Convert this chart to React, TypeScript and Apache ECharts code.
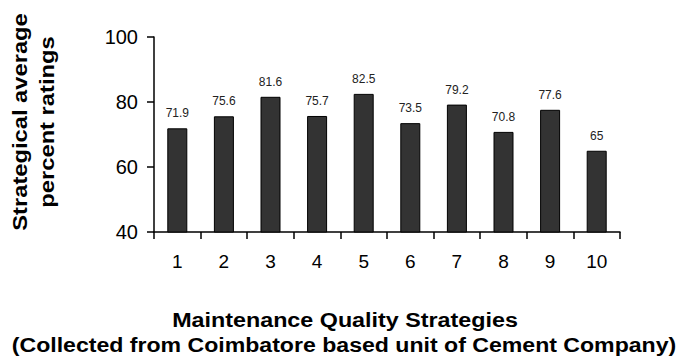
import React, { useEffect, useRef } from "react";
import * as echarts from "echarts";

const categories = ["1", "2", "3", "4", "5", "6", "7", "8", "9", "10"];
const values = [71.9, 75.6, 81.6, 75.7, 82.5, 73.5, 79.2, 70.8, 77.6, 65];
const yTitleLines = ["Strategical average", "percent ratings"];
const xTitleLines = [
  "Maintenance Quality Strategies",
  "(Collected from Coimbatore based unit of Cement Company)",
];

const FONT = "'Liberation Sans', Arial, Helvetica, sans-serif";

const titleStyle = (text: string) => ({
  text,
  fontSize: 21,
  fontWeight: "bold",
  fontFamily: FONT,
  fill: "#000",
  align: "center",
  verticalAlign: "middle",
});

export default function App() {
  const ref = useRef<HTMLDivElement>(null);
  useEffect(() => {
    if (!ref.current) return;
    const chart = echarts.init(ref.current, undefined, { renderer: "svg" });
    chart.setOption({
      animation: false,
      backgroundColor: "#ffffff",
      grid: { left: 154, right: 60, top: 37, bottom: 125 },
      xAxis: {
        type: "category",
        data: categories,
        boundaryGap: true,
        axisLine: { lineStyle: { color: "#000", width: 1.5 } },
        axisTick: { show: true, length: 7, alignWithLabel: false, lineStyle: { color: "#000", width: 1.5 } },
        axisLabel: { color: "#000", fontSize: 19, fontFamily: FONT, margin: 20 },
      },
      yAxis: {
        type: "value",
        min: 40,
        max: 100,
        interval: 20,
        splitLine: { show: false },
        axisLine: { show: true, lineStyle: { color: "#000", width: 1.5 } },
        axisTick: { show: true, length: 7, lineStyle: { color: "#000", width: 1.5 } },
        axisLabel: { color: "#000", fontSize: 20, fontFamily: FONT, margin: 16 },
      },
      series: [
        {
          type: "bar",
          data: values,
          barWidth: 20,
          itemStyle: { color: "#333333", borderColor: "#000", borderWidth: 1 },
          label: {
            show: true,
            position: "top",
            distance: 9,
            color: "#222",
            fontSize: 12,
            fontFamily: FONT,
          },
        },
      ],
      graphic: [
        {
          type: "text",
          x: 20,
          y: 122,
          rotation: Math.PI / 2,
          scaleX: 1.13,
          style: titleStyle(yTitleLines[0]),
        },
        {
          type: "text",
          x: 47,
          y: 122,
          rotation: Math.PI / 2,
          scaleX: 1.13,
          style: titleStyle(yTitleLines[1]),
        },
        {
          type: "text",
          x: 345,
          y: 320,
          scaleX: 1.11,
          style: titleStyle(xTitleLines[0]),
        },
        {
          type: "text",
          x: 344,
          y: 345,
          scaleX: 1.1,
          style: titleStyle(xTitleLines[1]),
        },
      ],
    });
    return () => chart.dispose();
  }, []);
  return <div ref={ref} style={{ width: 680, height: 357, position: "absolute", left: 0, top: 0 }} />;
}
